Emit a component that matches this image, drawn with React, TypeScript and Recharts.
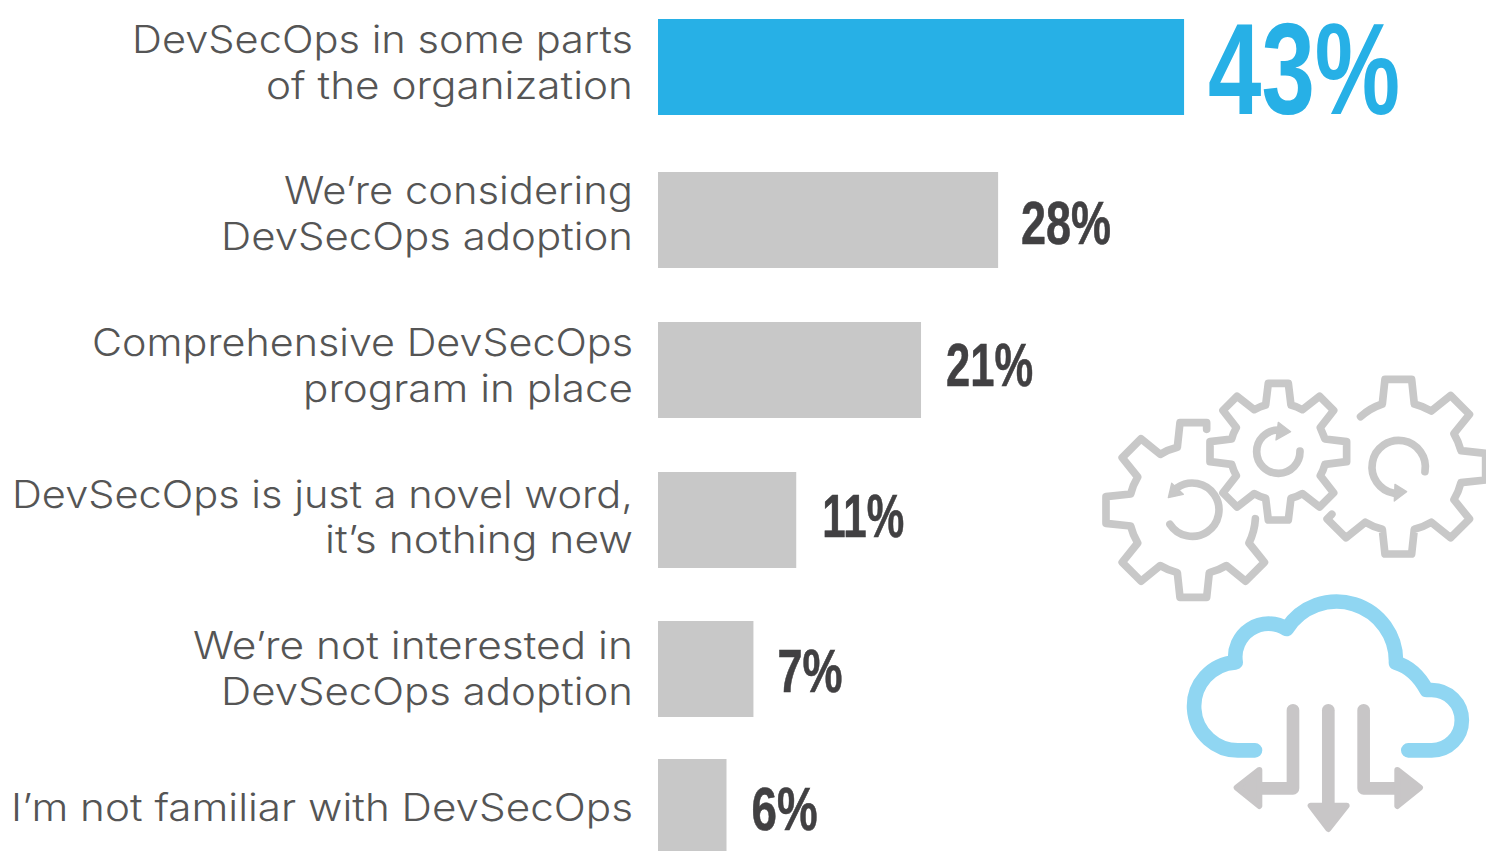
import React from 'react';
import { BarChart, Bar, XAxis, YAxis, LabelList } from 'recharts';

const categories = [
  'DevSecOps in some parts|of the organization',
  'We’re considering|DevSecOps adoption',
  'Comprehensive DevSecOps|program in place',
  'DevSecOps is just a novel word,|it’s nothing new',
  'We’re not interested in|DevSecOps adoption',
  'I’m not familiar with DevSecOps',
];
const barValues = [43, 27.8, 21.5, 11.3, 7.8, 5.6];
const valueLabels = ['43%', '28%', '21%', '11%', '7%', '6%'];

const chartData = categories.map((name, i) => ({ name, value: barValues[i], label: valueLabels[i] }));

// the rows in the original are not evenly spaced
const ROW_NUDGE = [-3, 0, 0, 0, -1, -13];
const TEXT_NUDGE = [0, -2, 0, 1.5, 4, -1];
const LINE_WIDTH = [[501, 367], [349, 412], [541, 330], [621, 308], [440, 412], [622]];
const LABEL_BASE = [47, 24, 16, 17, 23, 23];
const LABEL_GAP = [24, 23, 25, 26, 24, 25];
const LABEL_WIDTH = [192, 90, 87, 82, 65, 66];
const BLUE = '#27b0e6';
const GREY = '#c8c8c8';

const RowBar = (props: any) => {
  const { x, y, width, height, index } = props;
  return <rect x={x} y={y + ROW_NUDGE[index]} width={width} height={height} fill={index === 0 ? BLUE : GREY} />;
};

const CategoryTick = (props: any) => {
  const { x, y, payload, index } = props;
  const lines: string[] = payload.value.split('|');
  const cy = y + ROW_NUDGE[index] + TEXT_NUDGE[index];
  const first = lines.length > 1 ? cy - 14 : cy + 15;
  return (
    <g>
      {lines.map((l, i) => (
        <text
          key={l}
          x={x + 1}
          y={first + i * 45.5}
          textAnchor="end"
          textLength={LINE_WIDTH[index][i]}
          lengthAdjust="spacingAndGlyphs"
          fontFamily="Inter"
          fontWeight={300}
          fontSize={37.5}
          fill="#555555"
        >
          {l}
        </text>
      ))}
    </g>
  );
};

const ValueLabel = (props: any) => {
  const { x, y, width, height, index, value } = props;
  const big = index === 0;
  const color = big ? BLUE : '#414042';
  return (
    <text
      x={x + width + LABEL_GAP[index]}
      y={y + height / 2 + ROW_NUDGE[index] + LABEL_BASE[index]}
      fontFamily="Liberation Sans"
      fontWeight={700}
      fontSize={big ? 130 : 61}
      textLength={LABEL_WIDTH[index]}
      lengthAdjust="spacingAndGlyphs"
      fill={color}
      stroke={big ? 'none' : color}
      strokeWidth={0.6}
    >
      {value}
    </text>
  );
};

// gear outline, angles clockwise on screen, coordinates are 3x page px
const gearPath = (cx: number, cy: number, R: number, r: number, tip: number, base: number, teeth: number[], startAngle?: number, hook = 0) => {
  const pt = (rad: number, deg: number, side: number) => {
    const a = (deg * Math.PI) / 180;
    return `${cx + rad * Math.cos(a) - side * Math.sin(a)} ${cy + rad * Math.sin(a) + side * Math.cos(a)}`;
  };
  let d = '';
  if (startAngle !== undefined) d += `M${pt(r, startAngle, 0)} `;
  teeth.forEach((t, i) => {
    const b1 = pt(r, t, -base);
    d += i === 0 && startAngle === undefined ? `M${b1} ` : `A${r} ${r} 0 0 1 ${b1} `;
    d += `L${pt(R, t, -tip)} L${pt(R, t, tip)} `;
    if (i < teeth.length - 1 || !hook) d += `L${pt(r, t, base)} `;
    else d += `L${pt(R - hook, t, tip)} `;
  });
  if (startAngle === undefined) d += 'Z';
  return d;
};

const Icons = () => (
  <svg width={1486} height={851} style={{ position: 'absolute', left: 0, top: 0 }}>
    <g transform="translate(1090 365) scale(0.3333)" fill="none" stroke={GREY} strokeWidth={23} strokeLinejoin="round" strokeLinecap="round">
      <path d={gearPath(310, 435, 262, 188, 40, 48, [45, 90, 135, 180, 225, 270], 8, 20)} />
      <path d={gearPath(565, 260, 205, 140, 30, 38, [0, 45, 90, 135, 180, 225, 270, 315])} />
      <path d={gearPath(925, 305, 262, 188, 40, 48, [270, 315, 360, 405, 450, 495], 233, 20)} />
      <path d="M240 478 A80 80 0 1 0 262 368" />
      <path d="M630 258 A65 65 0 1 1 565 195" />
      <path d="M1005 320 A80 80 0 1 0 912 385" />
      <path d="M245 355 L235 398 L280 388 Z" fill={GREY} strokeWidth={4} />
      <path d="M565 172 L602 200 L558 225 Z" fill={GREY} strokeWidth={4} />
      <path d="M915 358 L950 380 L913 408 Z" fill={GREY} strokeWidth={4} />
    </g>
    <g transform="translate(1170 585) scale(0.3333)" fill="none" strokeLinecap="round" strokeLinejoin="round">
      <path
        d="M715 496 H785 A90 90 0 0 0 785 315 H770 Q735 250 678 233 A178 178 0 0 0 350 132 A100 100 0 0 0 197 232 A130 130 0 1 0 212 496 H255"
        stroke="#90d6f2"
        strokeWidth={44}
      />
      <g stroke="#c8c6c7" strokeWidth={38}>
        <path d="M475 376 V670" />
        <path d="M369 376 V610 H275" />
        <path d="M581 376 V610 H680" />
      </g>
      <g fill="#c8c6c7" stroke="#c8c6c7" strokeWidth={18}>
        <path d="M422 662 H530 L475 732 Z" />
        <path d="M268 555 L200 608 L268 663 Z" />
        <path d="M682 555 L750 608 L682 663 Z" />
      </g>
    </g>
  </svg>
);

const App = () => (
  <div style={{ position: 'absolute', left: 0, top: 0, width: 1486, height: 851, overflow: 'hidden', background: '#fff' }}>
    <div style={{ position: 'absolute', left: 0, top: -5 }}>
      <BarChart
        width={1486}
        height={900}
        layout="vertical"
        data={chartData}
        margin={{ top: 0, right: 0, bottom: 0, left: 0 }}
        barCategoryGap={54}
      >
        <XAxis type="number" hide domain={[0, 67.68]} />
        <YAxis
          type="category"
          dataKey="name"
          width={658}
          interval={0}
          axisLine={false}
          tickLine={false}
          tickSize={0}
          tickMargin={26}
          tick={<CategoryTick />}
        />
        <Bar dataKey="value" barSize={96} shape={<RowBar />} isAnimationActive={false}>
          <LabelList dataKey="label" content={<ValueLabel />} />
        </Bar>
      </BarChart>
    </div>
    <Icons />
  </div>
);

export default App;
